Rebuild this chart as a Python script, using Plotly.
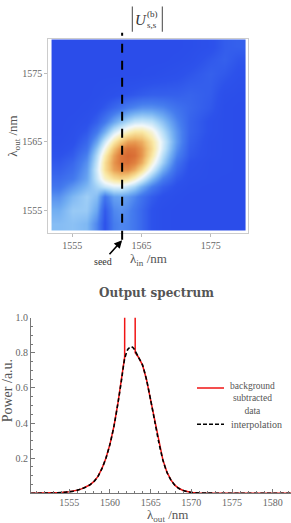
import plotly.graph_objects as go

# ---------------- data ----------------
# heatmap grid (nm) and |U| values (rows: lambda_out, cols: lambda_in)
grid_in = [1553, 1555, 1557, 1558.5, 1559.7, 1561, 1562, 1563, 1564, 1565, 1566.5, 1568, 1570, 1572, 1575, 1577, 1579]
grid_out = [1553, 1555, 1557, 1558.5, 1559.7, 1561, 1562, 1563, 1564, 1565, 1566.5, 1568, 1570, 1572, 1575, 1577, 1579]
u_rows = [
    [0.33, 0.34, 0.32, 0.22, 0.08, 0.20, 0.22, 0.21, 0.18, 0.14, 0.08, 0.05, 0.04, 0.04, 0.04, 0.04, 0.04],
    [0.30, 0.36, 0.36, 0.28, 0.10, 0.22, 0.24, 0.22, 0.18, 0.14, 0.08, 0.05, 0.04, 0.04, 0.04, 0.04, 0.04],
    [0.24, 0.32, 0.37, 0.33, 0.18, 0.27, 0.28, 0.26, 0.22, 0.17, 0.11, 0.07, 0.05, 0.04, 0.04, 0.04, 0.04],
    [0.18, 0.25, 0.32, 0.38, 0.43, 0.47, 0.47, 0.43, 0.38, 0.30, 0.20, 0.12, 0.07, 0.05, 0.04, 0.04, 0.04],
    [0.15, 0.19, 0.28, 0.43, 0.56, 0.63, 0.66, 0.63, 0.56, 0.47, 0.33, 0.20, 0.10, 0.06, 0.05, 0.04, 0.04],
    [0.12, 0.16, 0.26, 0.45, 0.63, 0.76, 0.80, 0.80, 0.74, 0.64, 0.47, 0.30, 0.14, 0.07, 0.05, 0.05, 0.04],
    [0.10, 0.14, 0.24, 0.43, 0.63, 0.78, 0.85, 0.86, 0.82, 0.74, 0.55, 0.37, 0.17, 0.08, 0.05, 0.05, 0.04],
    [0.08, 0.11, 0.21, 0.40, 0.59, 0.76, 0.85, 0.88, 0.86, 0.78, 0.61, 0.41, 0.21, 0.10, 0.06, 0.05, 0.04],
    [0.06, 0.09, 0.17, 0.35, 0.52, 0.70, 0.80, 0.85, 0.84, 0.78, 0.64, 0.45, 0.24, 0.11, 0.06, 0.05, 0.04],
    [0.05, 0.07, 0.14, 0.28, 0.44, 0.60, 0.69, 0.76, 0.77, 0.74, 0.62, 0.46, 0.26, 0.12, 0.06, 0.05, 0.04],
    [0.04, 0.06, 0.10, 0.19, 0.30, 0.44, 0.51, 0.57, 0.61, 0.61, 0.54, 0.41, 0.25, 0.13, 0.07, 0.05, 0.04],
    [0.04, 0.05, 0.07, 0.12, 0.19, 0.28, 0.34, 0.39, 0.43, 0.44, 0.42, 0.34, 0.22, 0.13, 0.07, 0.05, 0.04],
    [0.04, 0.04, 0.05, 0.07, 0.10, 0.14, 0.17, 0.20, 0.22, 0.24, 0.24, 0.22, 0.17, 0.14, 0.10, 0.05, 0.04],
    [0.04, 0.04, 0.04, 0.05, 0.06, 0.07, 0.08, 0.09, 0.10, 0.11, 0.12, 0.12, 0.12, 0.13, 0.11, 0.06, 0.05],
    [0.04, 0.04, 0.04, 0.04, 0.04, 0.04, 0.04, 0.04, 0.04, 0.045, 0.05, 0.06, 0.07, 0.09, 0.12, 0.10, 0.07],
    [0.04, 0.04, 0.04, 0.04, 0.04, 0.04, 0.04, 0.04, 0.04, 0.04, 0.04, 0.04, 0.05, 0.06, 0.10, 0.12, 0.09],
    [0.04, 0.04, 0.04, 0.04, 0.04, 0.04, 0.04, 0.04, 0.04, 0.04, 0.04, 0.04, 0.04, 0.05, 0.07, 0.11, 0.12],
]
seed_wavelength = 1562.2
heat_ticks = [1555, 1565, 1575]

# output spectrum: background subtracted data (with seed spikes) and interpolation
data_wl = [1550.3, 1552, 1553, 1554, 1555, 1555.5, 1556, 1556.5, 1557, 1557.5, 1558, 1558.5,
           1559, 1559.5, 1560, 1560.5, 1561, 1561.4, 1561.8, 1561.85, 1563.05, 1563.1, 1563.5,
           1564, 1564.5, 1565, 1565.5, 1566, 1566.5, 1567, 1567.5, 1568, 1568.5, 1569, 1569.5,
           1570, 1571, 1572, 1574, 1576, 1578, 1580, 1582.25]
data_pw = [0.0, 0.001, 0.002, 0.004, 0.009, 0.012, 0.018, 0.025, 0.034, 0.047, 0.066, 0.095,
           0.14, 0.20, 0.28, 0.385, 0.52, 0.64, 0.775, 3.0, 3.0, 0.80, 0.775,
           0.73, 0.645, 0.53, 0.41, 0.29, 0.19, 0.12, 0.075, 0.045, 0.027, 0.016, 0.009,
           0.005, 0.002, 0.001, 0.0, 0.0, 0.0, 0.0, 0.0]
interp_wl = [1550.3, 1552, 1553, 1554, 1555, 1555.5, 1556, 1556.5, 1557, 1557.5, 1558, 1558.5,
             1559, 1559.5, 1560, 1560.5, 1561, 1561.4, 1561.8, 1562.2, 1562.6, 1562.9, 1563.1, 1563.5,
             1564, 1564.5, 1565, 1565.5, 1566, 1566.5, 1567, 1567.5, 1568, 1568.5, 1569, 1569.5,
             1570, 1571, 1572, 1574, 1576, 1578, 1580, 1582.25]
interp_pw = [0.0, 0.001, 0.002, 0.004, 0.009, 0.012, 0.018, 0.025, 0.034, 0.047, 0.066, 0.095,
             0.14, 0.20, 0.28, 0.385, 0.52, 0.64, 0.765, 0.82, 0.835, 0.826, 0.81, 0.775,
             0.73, 0.645, 0.53, 0.41, 0.29, 0.19, 0.12, 0.075, 0.045, 0.027, 0.016, 0.009,
             0.005, 0.002, 0.001, 0.0, 0.0, 0.0, 0.0, 0.0]
spec_xticks = [1555, 1560, 1565, 1570, 1575, 1580]
spec_yticks = [0.2, 0.4, 0.6, 0.8, 1.0]
spec_ytext = ["0.2", "0.4", "0.6", "0.8", "1.0"]

# ---------------- styling ----------------
W, H = 291, 523
SERIF = "Liberation Serif, Times New Roman, serif"
TXT = "#555555"
TICK = "#666666"

def px(x):
    return x / W

def py(y):
    return 1 - y / H

colorscale = [
    [0.0, "rgb(40,72,232)"],
    [0.08, "rgb(45,82,235)"],
    [0.2, "rgb(70,125,238)"],
    [0.3, "rgb(115,175,242)"],
    [0.4, "rgb(178,220,248)"],
    [0.5, "rgb(242,248,250)"],
    [0.6, "rgb(250,235,170)"],
    [0.7, "rgb(242,195,115)"],
    [0.8, "rgb(228,140,70)"],
    [0.9, "rgb(212,95,45)"],
    [1.0, "rgb(195,60,35)"],
]

fig = go.Figure()

fig.add_trace(go.Heatmap(
    x=grid_in, y=grid_out, z=u_rows, colorscale=colorscale, zmin=0, zmax=1,
    zsmooth="best", showscale=False, hoverinfo="skip", xaxis="x", yaxis="y"))

fig.add_trace(go.Scatter(
    x=data_wl, y=data_pw, mode="lines", line=dict(color="rgb(240,20,20)", width=1.5),
    name="background subtracted data", xaxis="x2", yaxis="y2", showlegend=False))
fig.add_trace(go.Scatter(
    x=interp_wl, y=interp_pw, mode="lines",
    line=dict(color="black", width=1.6, dash="4px,2.5px", shape="spline", smoothing=0.6),
    name="interpolation", xaxis="x2", yaxis="y2", showlegend=False))

minor_x = [v for v in range(1551, 1583) if v % 5 != 0]
minor_y = [round(0.05 * k, 2) for k in range(1, 20) if k % 4 != 0]

fig.update_layout(
    width=W, height=H, margin=dict(l=0, r=0, t=0, b=0),
    paper_bgcolor="white", plot_bgcolor="white",
    font=dict(family=SERIF, color=TXT, size=10),
    xaxis=dict(domain=[px(48.3), px(248.3)], range=[1551.53, 1580.43], anchor="y",
               tickvals=heat_ticks, ticks="outside", ticklen=3, tickcolor="#bbbbbb",
               showline=True, mirror=True, linecolor="#cccccc", linewidth=1,
               showgrid=False, zeroline=False, tickfont=dict(family=SERIF, size=10, color=TICK)),
    yaxis=dict(domain=[py(230.7), py(34)], range=[1551.6, 1580.12], anchor="x",
               tickvals=heat_ticks, ticks="outside", ticklen=3, tickcolor="#bbbbbb",
               showline=True, mirror=True, linecolor="#cccccc", linewidth=1,
               showgrid=False, zeroline=False, tickfont=dict(family=SERIF, size=10, color=TICK)),
    xaxis2=dict(domain=[px(31), 1.0], range=[1550.29, 1582.25], anchor="y2",
                tickvals=spec_xticks, ticks="inside", ticklen=4, tickcolor="#777777",
                minor=dict(tickvals=minor_x, ticks="inside", ticklen=2, tickcolor="#777777"),
                showline=True, linecolor="#777777", linewidth=1,
                showgrid=False, zeroline=False, tickfont=dict(family=SERIF, size=10, color=TICK)),
    yaxis2=dict(domain=[py(493), py(315.7)], range=[0, 1.0], anchor="x2",
                tickvals=spec_yticks, ticktext=spec_ytext, ticks="inside", ticklen=4, tickcolor="#777777",
                minor=dict(tickvals=minor_y, ticks="inside", ticklen=2, tickcolor="#777777"),
                showline=True, linecolor="#777777", linewidth=1,
                showgrid=False, zeroline=False, tickfont=dict(family=SERIF, size=10, color=TICK)),
)

shapes = [
    # seed dashed line
    dict(type="line", xref="x", yref="paper", x0=seed_wavelength, x1=seed_wavelength,
         y0=py(237), y1=py(28), line=dict(color="black", width=2, dash="9px,8px")),
    # |..| bars of the title
    dict(type="line", xref="paper", yref="paper", x0=px(132.3), x1=px(132.3), y0=py(27), y1=py(1.5),
         line=dict(color="#444444", width=1)),
    dict(type="line", xref="paper", yref="paper", x0=px(162.3), x1=px(162.3), y0=py(27), y1=py(1.5),
         line=dict(color="#444444", width=1)),
    # legend samples
    dict(type="line", xref="paper", yref="paper", x0=px(197), x1=px(224), y0=py(386.7), y1=py(386.7),
         line=dict(color="rgb(240,20,20)", width=1.5)),
    dict(type="line", xref="paper", yref="paper", x0=px(197), x1=px(224), y0=py(423.3), y1=py(423.3),
         line=dict(color="black", width=1.6, dash="4px,2px")),
]
fig.update_layout(shapes=shapes)

def ann(text, x, y, size=10, color=TXT, family=SERIF, **kw):
    d = dict(text=text, xref="paper", yref="paper", x=px(x), y=py(y), showarrow=False,
             xanchor="center", yanchor="middle", font=dict(family=family, size=size, color=color))
    d.update(kw)
    return d

annotations = [
    ann("<i>U</i>", 140.5, 15, size=15, color="#333333"),
    ann("(b)", 152.3, 9.5, size=9, color="#333333"),
    ann("s,s", 151.5, 20, size=9, color="#333333"),
    ann("λ<sub>in</sub> /nm", 148, 256.5, size=13),
    ann("λ<sub>out</sub> /nm", 14, 133, size=13, textangle=-90),
    dict(text="seed", xref="x", yref="paper", x=seed_wavelength, y=py(237.5), showarrow=True,
         ax=-19, ay=21, arrowhead=2, arrowsize=1, arrowwidth=1.6, arrowcolor="black", standoff=0,
         font=dict(family=SERIF, size=10, color="#333333")),
    ann("<b>Output spectrum</b>", 156.7, 291, size=12, family="DejaVu Serif, serif"),
    ann("Power /a.u.", 7, 390, size=14, textangle=-90),
    ann("λ<sub>out</sub> /nm", 168, 515, size=13),
    ann("background<br>subtracted<br>data", 252.7, 397, size=9.5, align="center"),
    ann("interpolation", 256, 423.3, size=10),
]
fig.update_layout(annotations=annotations)

fig.write_html("out.html", config={"displayModeBar": False},
               post_script="document.body.style.margin='0';document.body.style.overflow='hidden';")
